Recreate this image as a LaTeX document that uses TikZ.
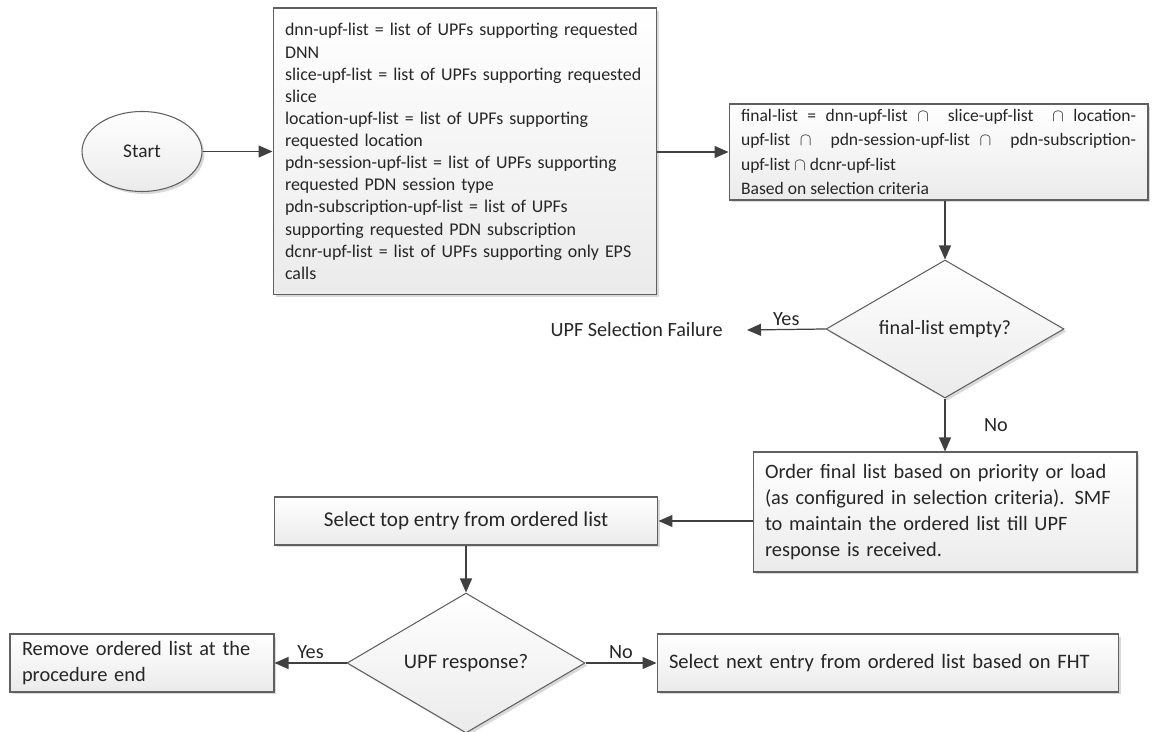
\documentclass[tikz,border=0pt]{standalone}
\usepackage{fontspec}
\setmainfont{Carlito}
\usetikzlibrary{shapes.geometric,arrows.meta,shadows,positioning}

\tikzset{
  box/.style={draw=gray!75!black, line width=0.6pt, top color=white, bottom color=gray!16,
    drop shadow={shadow xshift=0.05cm, shadow yshift=-0.05cm, opacity=0.3},
    text=black!85, inner xsep=0.24cm, inner ysep=0pt},
  leftbox/.style={box, align=left},
  midbox/.style={box, align=center},
  decision/.style={box, diamond, aspect=2, inner sep=0pt, align=center},
  terminal/.style={box, ellipse, inner sep=0pt},
  flow/.style={draw=black!75, line width=0.7pt, -{Triangle[length=0.28cm,width=0.24cm]}},
  answer/.style={text=black!85, inner sep=2pt, font=\fontsize{11.5}{13}\selectfont},
}

\begin{document}
\begin{tikzpicture}[x=0.02cm, y=-0.02cm]
  \useasboundingbox (0,0) rectangle (1152,732);

  % start + list building
  \node[terminal, minimum width=2.4cm, minimum height=1.6cm, font=\fontsize{11}{12}\selectfont] (start) at (142,151.5) {Start};

  \node[leftbox, text width=7.2cm, minimum height=5.74cm, font=\fontsize{10.2}{12.6}\selectfont] (lists) at (465,151.5) {%
    dnn-upf-list = list of UPFs supporting requested\\
    DNN\\
    slice-upf-list = list of UPFs supporting requested\\
    slice\\
    location-upf-list = list of UPFs supporting\\
    requested location\\
    pdn-session-upf-list = list of UPFs supporting\\
    requested PDN session type\\
    pdn-subscription-upf-list = list of UPFs\\
    supporting requested PDN subscription\\
    dcnr-upf-list = list of UPFs supporting only EPS\\
    calls};

  \node[box, align=justify, text width=7.9cm, minimum height=1.92cm, font=\fontsize{10}{13.8}\selectfont] (final) at (938.5,152) {%
    final-list = dnn-upf-list $\cap$ \ slice-upf-list \ $\cap$ location-\linebreak
    upf-list $\cap$ \ pdn-session-upf-list $\cap$ \ pdn-subscription-\linebreak
    upf-list $\cap$ dcnr-upf-list\\
    Based on selection criteria};

  % empty check
  \node[decision, minimum width=4.76cm, minimum height=2.76cm, font=\fontsize{11.5}{13}\selectfont] (empty) at (945,329) {final-list empty?};
  \node[answer, anchor=east, inner xsep=0.48cm] (fail) at (747,330) {UPF Selection Failure};

  \node[leftbox, text width=7.2cm, minimum height=2.4cm, font=\fontsize{11.6}{14.8}\selectfont] (order) at (945,512) {%
    Order final list based on priority or load\\
    (as configured in selection criteria). SMF\\
    to maintain the ordered list till UPF\\
    response is received.};

  % pick an entry
  \node[midbox, minimum width=7.68cm, minimum height=0.96cm, font=\fontsize{12}{13}\selectfont] (top) at (466,521) {Select top entry from ordered list};

  \node[decision, minimum width=4.76cm, minimum height=2.8cm, font=\fontsize{11.8}{13}\selectfont] (resp) at (466,663) {UPF response?};

  \node[leftbox, text width=4.8cm, minimum height=1.16cm, font=\fontsize{11.6}{14.5}\selectfont] (remove) at (142,663) {%
    Remove ordered list at the\\
    procedure end};
  \node[leftbox, text width=8.76cm, minimum height=1.16cm, font=\fontsize{11.7}{13}\selectfont] (next) at (888,663) {Select next entry from ordered list based on FHT};

  % connectors
  \draw[flow] (start) -- (start -| lists.west);
  \draw[flow] (lists.east |- final.west) -- (final.west);
  \draw[flow] (final.south -| empty.north) -- (empty.north);
  \draw[flow] (empty.west) -- (fail.east) node[answer, midway, above] (yes1) {Yes};
  \draw[flow] (empty.south) -- (order.north) node[answer, midway, right=0.7cm] (no1) {No};
  \draw[flow] (top.east -| order.west) -- (top.east);
  \draw[flow] (top.south) -- (resp.north);
  \draw[flow] (resp.west) -- (remove.east) node[answer, midway, above] (yes2) {Yes};
  \draw[flow] (resp.east) -- (next.west) node[answer, midway, above] (no2) {No};
\end{tikzpicture}
\end{document}
